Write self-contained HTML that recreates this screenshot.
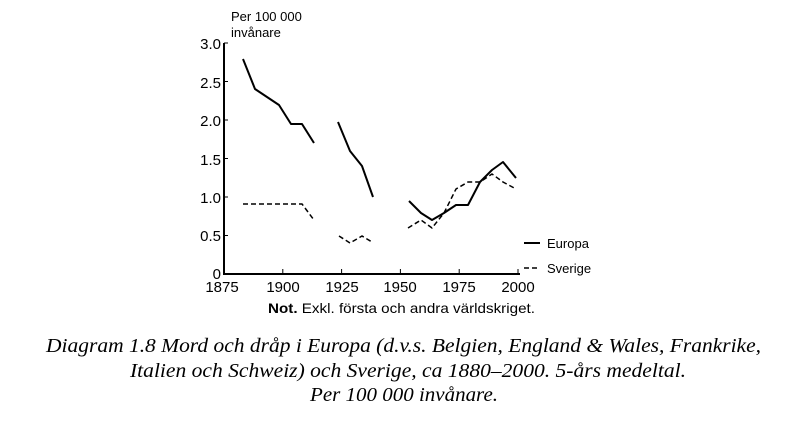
<!DOCTYPE html>
<html><head><meta charset="utf-8"><style>
html,body{margin:0;padding:0;background:#fff;}
svg{display:block;}
</style></head><body>
<svg width="811" height="441" viewBox="0 0 811 441" xmlns="http://www.w3.org/2000/svg">
<g font-family="Liberation Sans, DejaVu Sans, sans-serif" fill="#000">
<text x="231" y="21" font-size="13">Per 100 000</text>
<text x="231" y="37" font-size="13">invånare</text>
<g font-size="15" text-anchor="end">
<text x="221" y="49">3.0</text>
<text x="221" y="88">2.5</text>
<text x="221" y="126">2.0</text>
<text x="221" y="165">1.5</text>
<text x="221" y="203">1.0</text>
<text x="221" y="241">0.5</text>
<text x="221" y="279">0</text>
</g>
<g font-size="15" text-anchor="middle">
<text x="222" y="292">1875</text>
<text x="283" y="292">1900</text>
<text x="342" y="292">1925</text>
<text x="400" y="292">1950</text>
<text x="459" y="292">1975</text>
<text x="518" y="292">2000</text>
</g>
<text x="547" y="248" font-size="13">Europa</text>
<text x="547" y="273" font-size="13">Sverige</text>
<text x="268" y="313" font-size="14" textLength="267" lengthAdjust="spacingAndGlyphs"><tspan font-weight="bold">Not.</tspan> Exkl. första och andra världskriget.</text>
</g>
<g stroke="#000" fill="none">
<line x1="224" y1="43" x2="224" y2="275" stroke-width="2"/>
<line x1="223" y1="274" x2="520" y2="274" stroke-width="2"/>
<g stroke-width="1">
<line x1="224" y1="43" x2="228" y2="43"/><line x1="224" y1="81.5" x2="228" y2="81.5"/>
<line x1="224" y1="120" x2="228" y2="120"/><line x1="224" y1="158.5" x2="228" y2="158.5"/>
<line x1="224" y1="197" x2="228" y2="197"/><line x1="224" y1="235.5" x2="228" y2="235.5"/>
<line x1="282.8" y1="274" x2="282.8" y2="269"/><line x1="341.6" y1="274" x2="341.6" y2="269"/>
<line x1="400.4" y1="274" x2="400.4" y2="269"/><line x1="459.2" y1="274" x2="459.2" y2="269"/>
<line x1="518" y1="274" x2="518" y2="269"/>
</g>
<g stroke-width="2" stroke-linejoin="round">
<polyline points="243,59 255,89 279,105 291,124 302,124 314,143"/>
<polyline points="338,122 350,151 362,166 373,197"/>
<polyline points="409,201 421,213 432,220 444,213 456,205 468,205 480,182 492,170 503,162 516,178"/>
</g>
<g stroke-width="1.5" stroke-dasharray="5,3">
<polyline points="243,204 302,204 314,220"/>
<polyline points="339,236 350,243 362,236 372,242"/>
<polyline points="408,228 421,220 432,228 444,213 456,189 468,182 480,182 492,174 503,182 516,189"/>
</g>
<line x1="524" y1="243" x2="540" y2="243" stroke-width="2"/>
<line x1="524" y1="268" x2="540" y2="268" stroke-width="1.5" stroke-dasharray="5,3"/>
</g>
<g font-family="Liberation Serif, DejaVu Serif, serif" font-style="italic" font-size="20" fill="#000">
<text x="46" y="352" textLength="715" lengthAdjust="spacingAndGlyphs">Diagram 1.8  Mord och dråp i Europa (d.v.s. Belgien, England &amp; Wales, Frankrike,</text>
<text x="130" y="377" textLength="556" lengthAdjust="spacingAndGlyphs">Italien och Schweiz) och Sverige, ca 1880–2000. 5-års medeltal.</text>
<text x="310" y="401" textLength="188" lengthAdjust="spacingAndGlyphs">Per 100 000 invånare.</text>
</g>
</svg>
</body></html>
